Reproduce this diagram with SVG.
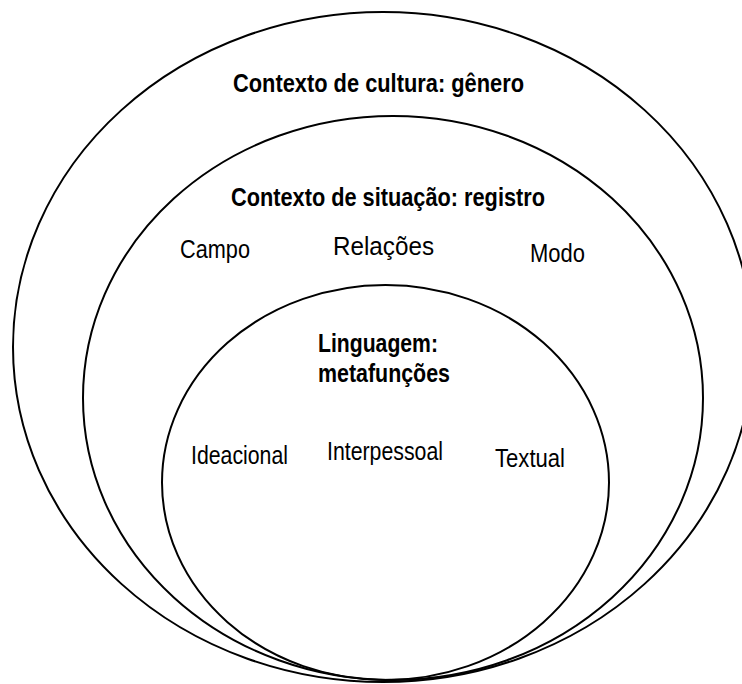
<svg xmlns="http://www.w3.org/2000/svg" width="742" height="684" viewBox="0 0 742 684">
<style>
.ring{fill:none;stroke:#000;stroke-width:2}
text{font-family:"Liberation Sans",Arial,sans-serif;fill:#000}
.b{font-weight:bold;font-size:26px}
.r{font-size:25px}
</style>
<rect width="742" height="684" fill="#fff"/>
<g id="cultura">
<ellipse class="ring" cx="383" cy="347" rx="370" ry="335"/>
<text class="b" x="233" y="92" textLength="291" lengthAdjust="spacingAndGlyphs">Contexto de cultura: gênero</text>
</g>
<g id="situacao">
<ellipse class="ring" cx="393" cy="398" rx="310" ry="282"/>
<text class="b" x="231" y="206" textLength="314" lengthAdjust="spacingAndGlyphs">Contexto de situação: registro</text>
<text class="r" x="180" y="258" textLength="70" lengthAdjust="spacingAndGlyphs">Campo</text>
<text class="r" x="333" y="255" textLength="101" lengthAdjust="spacingAndGlyphs">Relações</text>
<text class="r" x="530" y="262" textLength="55" lengthAdjust="spacingAndGlyphs">Modo</text>
</g>
<g id="linguagem">
<ellipse class="ring" cx="385.5" cy="482.5" rx="223.5" ry="197.5"/>
<text class="b" x="318" y="352" textLength="120" lengthAdjust="spacingAndGlyphs">Linguagem:</text>
<text class="b" x="318" y="382" textLength="132" lengthAdjust="spacingAndGlyphs">metafunções</text>
<text class="r" x="191" y="464" textLength="97" lengthAdjust="spacingAndGlyphs">Ideacional</text>
<text class="r" x="327" y="460" textLength="116" lengthAdjust="spacingAndGlyphs">Interpessoal</text>
<text class="r" x="495" y="467" textLength="70" lengthAdjust="spacingAndGlyphs">Textual</text>
</g>
<g id="connectors"/>
</svg>
